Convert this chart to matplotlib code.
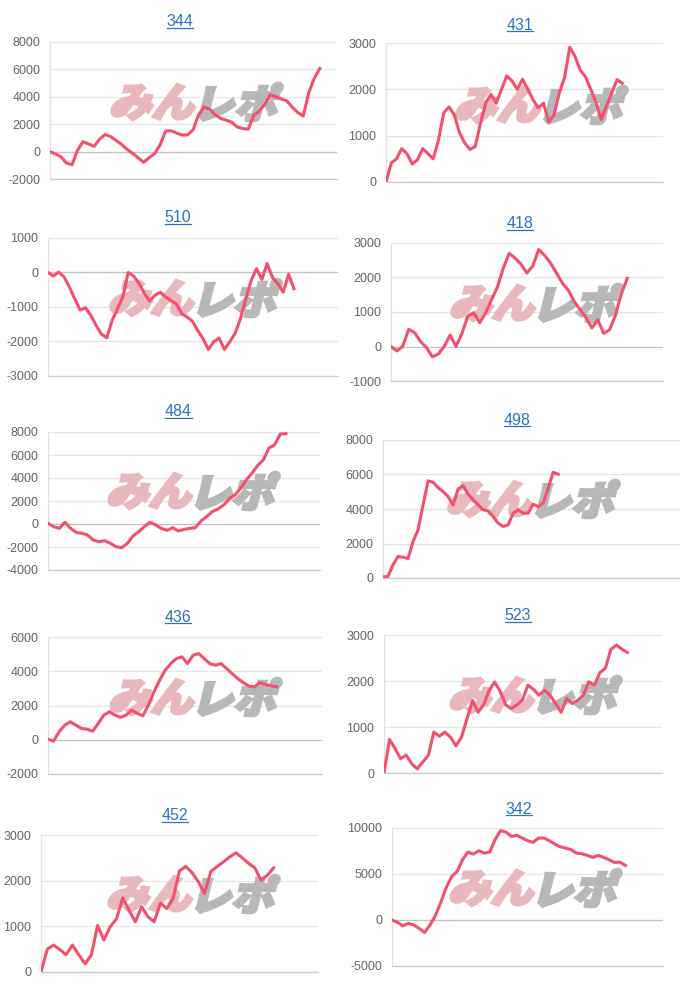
import matplotlib
matplotlib.use('Agg')
import matplotlib.pyplot as plt
from matplotlib.textpath import TextPath
from matplotlib.patches import PathPatch
from matplotlib.font_manager import FontProperties
from matplotlib.transforms import Affine2D, IdentityTransform
from matplotlib.lines import Line2D

# machine numbers shown as panel titles
titles = ['344', '431', '510', '418', '484', '498', '436', '523', '452', '342']

# cumulative results per machine
s344 = [0, -170, -380, -840, -960, 100, 720, 560, 380, 900, 1250, 1100, 820, 530, 160,
        -120, -450, -780, -450, -150, 490, 1500, 1520, 1350, 1210, 1220, 1600, 2700, 3250,
        3100, 2700, 2420, 2290, 2150, 1800, 1690, 1630, 2650, 2950, 3450, 4150, 4000, 3850,
        3700, 3250, 2850, 2600, 4300, 5350, 6070]
s431 = [0, 410, 500, 720, 610, 390, 480, 720, 610, 500, 910, 1490, 1620, 1450, 1060, 840,
        700, 770, 1270, 1710, 1890, 1700, 2000, 2290, 2180, 2000, 2220, 2000, 1780, 1600,
        1700, 1290, 1450, 1920, 2250, 2910, 2710, 2410, 2270, 2000, 1710, 1350, 1640, 1920,
        2210, 2130]
s510 = [0, -100, 10, -130, -420, -760, -1090, -1020, -1240, -1530, -1790, -1890, -1390,
        -1050, -710, 0, -100, -310, -600, -830, -660, -570, -710, -810, -910, -1190, -1290,
        -1410, -1680, -1920, -2230, -2010, -1900, -2230, -2010, -1760, -1340, -760, -230,
        110, -200, 260, -150, -320, -570, -50, -470]
s418 = [0, -130, 10, 500, 400, 140, -30, -300, -220, 0, 330, 0, 380, 880, 980, 690, 960,
        1350, 1720, 2270, 2700, 2560, 2390, 2130, 2330, 2810, 2640, 2420, 2130, 1840, 1630,
        1310, 1070, 830, 540, 770, 380, 490, 910, 1540, 1980]
s484 = [50, -230, -380, 150, -380, -730, -810, -960, -1400, -1540, -1450, -1680, -1980,
        -2060, -1690, -1050, -670, -230, 150, -90, -380, -550, -320, -610, -470, -380, -320,
        260, 640, 1080, 1310, 1660, 2180, 2530, 3110, 3840, 4420, 5090, 5580, 6600, 6890,
        7830, 7850]
s498 = [60, 100, 770, 1250, 1210, 1120, 2120, 2790, 4240, 5630, 5550, 5240, 5010, 4720,
        4240, 5160, 5350, 4860, 4530, 4240, 3950, 3890, 3560, 3180, 2990, 3080, 3760, 3950,
        3760, 3760, 4280, 4140, 4340, 5200, 6130, 6010]
s436 = [40, -80, 470, 850, 1050, 850, 660, 620, 500, 950, 1440, 1630, 1440, 1300, 1440,
        1730, 1540, 1400, 2020, 2800, 3480, 4060, 4450, 4740, 4840, 4450, 4930, 5030, 4740,
        4450, 4350, 4450, 4160, 3860, 3570, 3340, 3130, 3090, 3340, 3220, 3150, 3090]
s523 = [0, 730, 530, 310, 390, 200, 90, 240, 380, 890, 800, 890, 780, 590, 780, 1180,
        1580, 1320, 1480, 1800, 1980, 1770, 1480, 1400, 1480, 1580, 1910, 1820, 1690, 1800,
        1690, 1510, 1320, 1620, 1510, 1580, 1690, 1980, 1910, 2180, 2280, 2690, 2780, 2690,
        2620]
s452 = [0, 500, 590, 490, 380, 590, 380, 180, 370, 1020, 700, 990, 1160, 1620, 1350,
        1100, 1430, 1210, 1100, 1510, 1390, 1610, 2210, 2310, 2180, 1980, 1720, 2200, 2310,
        2410, 2520, 2610, 2500, 2380, 2280, 2010, 2120, 2280]
s342 = [0, -250, -650, -360, -550, -910, -1350, -550, 470, 1930, 3530, 4730, 5270, 6550,
        7380, 7160, 7530, 7270, 7380, 8730, 9710, 9560, 9090, 9200, 8910, 8620, 8440, 8910,
        8910, 8620, 8250, 7960, 7820, 7640, 7270, 7200, 7020, 6800, 7020, 6800, 6550, 6250,
        6290, 5930]
series = [s344, s431, s510, s418, s484, s498, s436, s523, s452, s342]

# y tick labels per panel
yt344 = [-2000, 0, 2000, 4000, 6000, 8000]
yt431 = [0, 1000, 2000, 3000]
yt510 = [-3000, -2000, -1000, 0, 1000]
yt418 = [-1000, 0, 1000, 2000, 3000]
yt484 = [-4000, -2000, 0, 2000, 4000, 6000, 8000]
yt498 = [0, 2000, 4000, 6000, 8000]
yt436 = [-2000, 0, 2000, 4000, 6000]
yt523 = [0, 1000, 2000, 3000]
yt452 = [0, 1000, 2000, 3000]
yt342 = [-5000, 0, 5000, 10000]
yticks = [yt344, yt431, yt510, yt418, yt484, yt498, yt436, yt523, yt452, yt342]

# layout in image pixels: (left, right, top, bottom)
boxes = [(50, 337, 42, 179), (386, 663, 43, 182),
         (48, 338, 238, 376), (391, 663, 243, 381),
         (48, 320, 432, 570), (383, 680, 440, 578),
         (48, 322, 637, 774), (384, 662, 635, 773),
         (41, 318, 835, 972), (392, 663, 828, 966)]
title_pos = [(180, 22), (520, 25), (178, 218), (520, 224), (178, 412),
             (517, 420), (178, 617), (518, 616), (175, 816), (519, 809)]
line_frac = [0.94, 0.853, 0.848, 0.869, 0.875, 0.59, 0.835, 0.876, 0.84, 0.861]
mark_pos = [(114, 102), (459, 105), (113, 298), (454, 303), (111, 491),
            (451, 499), (113, 697), (453, 695), (111, 894), (453, 888)]

W, H = 680, 989
LINE = '#f4506d'
BLUE = '#2a72c6'

plt.rcParams['font.family'] = ['Liberation Sans', 'DejaVu Sans']

fig = plt.figure(figsize=(W / 100, H / 100), dpi=100)
fig.patch.set_facecolor('white')

jp = FontProperties(family='Noto Sans CJK JP', weight='black')


def watermark(ax, x0, yc):
    size = 38
    parts = [('みん', '#e9b8bc'), ('レポ', '#b8b8b8')]
    x = x0
    for txt, col in parts:
        tp = TextPath((0, 0), txt, size=size, prop=jp)
        ext = tp.get_extents()
        tr = (Affine2D().translate(-ext.x0, -(ext.y0 + ext.y1) / 2)
              .scale(1.12, 1.05).skew_deg(14, 0)
              .translate(x, H - yc))
        p = PathPatch(tp, transform=tr + IdentityTransform(), fc=col, ec=col,
                      lw=2.2, joinstyle='miter', zorder=1.5)
        ax.add_patch(p)
        x += ext.width * 1.12 + 7


title_texts = []
for i in range(10):
    l, r, t, b = boxes[i]
    ax = fig.add_axes([l / W, 1 - b / H, (r - l) / W, (b - t) / H])
    vals = series[i]
    n = len(vals)
    ax.plot(range(n), vals, color=LINE, lw=2.2, zorder=3, solid_joinstyle='round')
    yt = yticks[i]
    ax.set_yticks(yt)
    ax.set_yticklabels([str(v) for v in yt])
    ax.set_xticks([])
    ax.tick_params(axis='y', length=0, pad=7, labelsize=9, labelcolor='#666666')
    for v in yt:
        c = '#c4c4c4' if v == 0 else '#e6e6e6'
        ax.axhline(v, color=c, lw=0.9, zorder=1)
    for s in ['top', 'right']:
        ax.spines[s].set_visible(False)
    ax.spines['left'].set_color('#e3e3e3')
    ax.spines['left'].set_linewidth(0.9)
    ax.spines['bottom'].set_color('#cccccc')
    ax.spines['bottom'].set_linewidth(0.9)
    ax.set_facecolor('none')
    watermark(ax, *mark_pos[i])
    ax.set_xlim(0, (n - 1) / line_frac[i])
    ax.set_ylim(yt[0], yt[-1])

    tx, ty = title_pos[i]
    tt = fig.text(tx / W, 1 - ty / H, titles[i], color=BLUE, fontsize=11.5,
                  ha='center', va='center')
    title_texts.append(tt)

fig.canvas.draw()
r = fig.canvas.get_renderer()
for tt in title_texts:
    bb = tt.get_window_extent(renderer=r)
    y = bb.y0 + 1.5
    fig.add_artist(Line2D([bb.x0, bb.x1], [y, y], transform=IdentityTransform(),
                          color=BLUE, lw=0.9))

fig.savefig('out.png', dpi=100, facecolor='white')
